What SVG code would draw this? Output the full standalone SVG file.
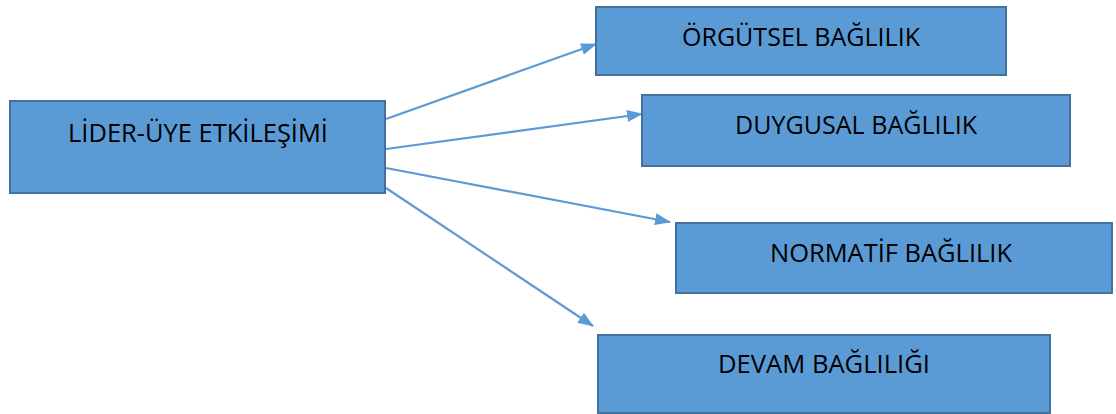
<svg xmlns="http://www.w3.org/2000/svg" width="1116" height="414" viewBox="0 0 1116 414">
<defs>
<style>
.box{fill:#5B9BD5;stroke:#41719C;stroke-width:2}
.lbl{font-family:"Open Sans","Liberation Sans",sans-serif;font-size:25px;fill:#000}
.con{stroke:#5B9BD5;stroke-width:2.2;fill:none;marker-end:url(#ah)}
</style>
<marker id="ah" markerWidth="16" markerHeight="12" refX="15" refY="6" orient="auto" markerUnits="userSpaceOnUse">
<path d="M0,0 L16,6 L0,12 Z" fill="#5B9BD5"/>
</marker>
</defs>
<rect width="1116" height="414" fill="#fff"/>
<g id="connectors">
<line class="con" x1="386" y1="119" x2="596" y2="44"/>
<line class="con" x1="386" y1="149" x2="642" y2="114"/>
<line class="con" x1="386" y1="168" x2="670" y2="222"/>
<line class="con" x1="386" y1="188" x2="593" y2="326"/>
</g>
<g id="lider">
<rect class="box" x="10" y="101" width="375" height="92"/>
<text class="lbl" x="68" y="142" textLength="260" lengthAdjust="spacingAndGlyphs">LİDER-ÜYE ETKİLEŞİMİ</text>
</g>
<g id="orgutsel">
<rect class="box" x="596" y="7" width="410" height="68"/>
<text class="lbl" x="682" y="46" textLength="238" lengthAdjust="spacingAndGlyphs">ÖRGÜTSEL BAĞLILIK</text>
</g>
<g id="duygusal">
<rect class="box" x="642" y="95" width="428" height="71"/>
<text class="lbl" x="735" y="134" textLength="242" lengthAdjust="spacingAndGlyphs">DUYGUSAL BAĞLILIK</text>
</g>
<g id="normatif">
<rect class="box" x="676" y="223" width="436" height="70"/>
<text class="lbl" x="770" y="262" textLength="242" lengthAdjust="spacingAndGlyphs">NORMATİF BAĞLILIK</text>
</g>
<g id="devam">
<rect class="box" x="598" y="335" width="452" height="78"/>
<text class="lbl" x="718" y="373" textLength="212" lengthAdjust="spacingAndGlyphs">DEVAM BAĞLILIĞI</text>
</g>
</svg>
